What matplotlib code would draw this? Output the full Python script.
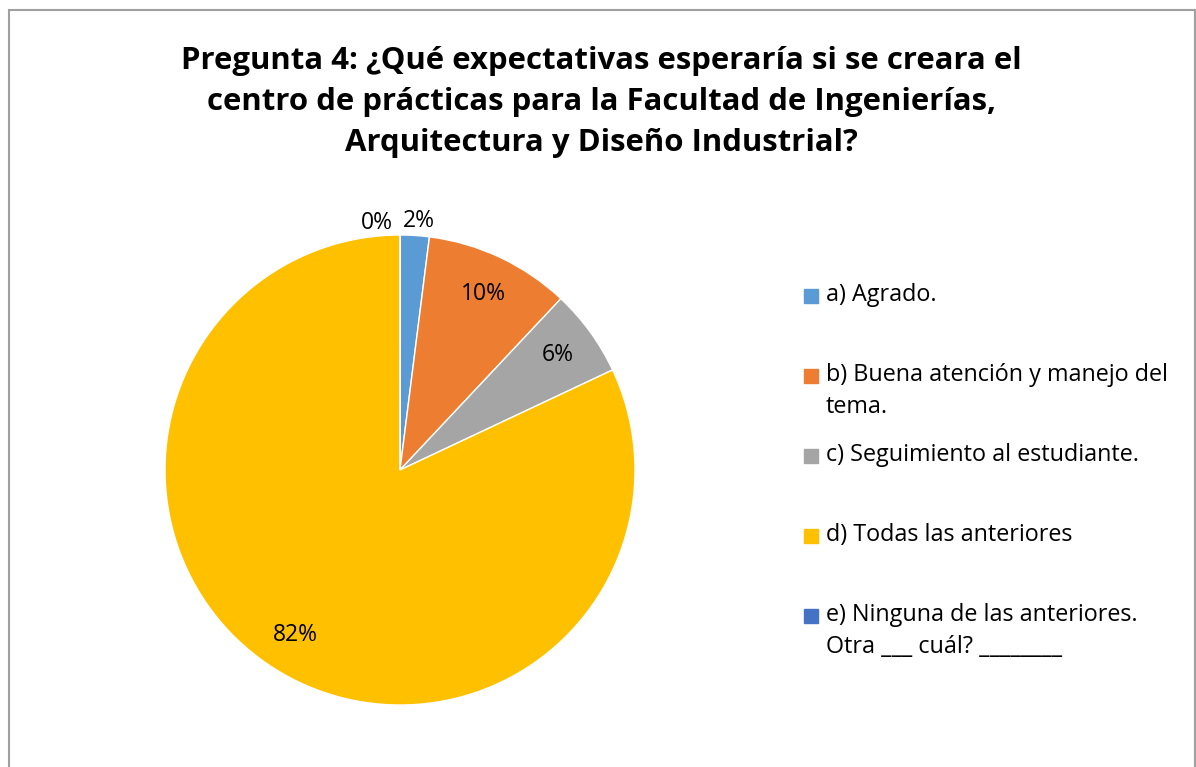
import numpy as np
import matplotlib
matplotlib.use('Agg')
import matplotlib.pyplot as plt
from matplotlib.patches import Rectangle

plt.rcParams['font.family'] = ['Open Sans', 'DejaVu Sans']

titulo = 'Pregunta 4: ¿Qué expectativas esperaría si se creara el\ncentro de prácticas para la Facultad de Ingenierías,\nArquitectura y Diseño Industrial?'
categorias = ['a) Agrado.',
              'b) Buena atención y manejo del\ntema.',
              'c) Seguimiento al estudiante.',
              'd) Todas las anteriores',
              'e) Ninguna de las anteriores.\nOtra ___ cuál? ________']
respuestas = [1, 5, 3, 41, 0]  # de 50 encuestados
colores = ['#5B9BD5', '#ED7D31', '#A5A5A5', '#FFC000', '#4472C4']

W, H = 1196, 767
fig = plt.figure(figsize=(W / 100, H / 100), dpi=100)

# borde gris del grafico
fig.patches.append(Rectangle((9 / W, -0.02), 1186 / W, 1.02 - 10 / H,
                             transform=fig.transFigure, fill=False,
                             edgecolor='#A0A0A0', linewidth=1.5))

fig.text(601 / W, 1 - 102 / H, titulo, ha='center', va='center',
         fontsize=22.4, fontweight='bold', linespacing=1.5)

cx, cy, r = 400, 470, 235
ax = fig.add_axes([(cx - r) / W, 1 - (cy + r) / H, 2 * r / W, 2 * r / H])
wedges, textos, autotextos = ax.pie(respuestas, colors=colores, startangle=90,
                                    counterclock=False, autopct='%1.0f%%',
                                    pctdistance=0.83,
                                    wedgeprops=dict(linewidth=1, edgecolor='white'),
                                    textprops=dict(fontsize=16.5))
ax.set_xlim(-1, 1)
ax.set_ylim(-1, 1)
ax.set_aspect('equal')

# etiquetas de las rebanadas pequenas fuera del pastel
autotextos[0].set_position((0.08, 1.06))
autotextos[4].set_position((-0.10, 1.05))

# leyenda manual estilo Excel
y0 = 296
paso = 80
for i, (cat, col) in enumerate(zip(categorias, colores)):
    y = y0 + i * paso
    fig.patches.append(Rectangle((804 / W, 1 - (y + 7) / H), 14 / W, 14 / H,
                                 transform=fig.transFigure, color=col))
    fig.text(826 / W, 1 - (y - 13) / H, cat, ha='left', va='top',
             fontsize=16.8, linespacing=1.45)

fig.savefig('out.png', dpi=100, facecolor='white')
